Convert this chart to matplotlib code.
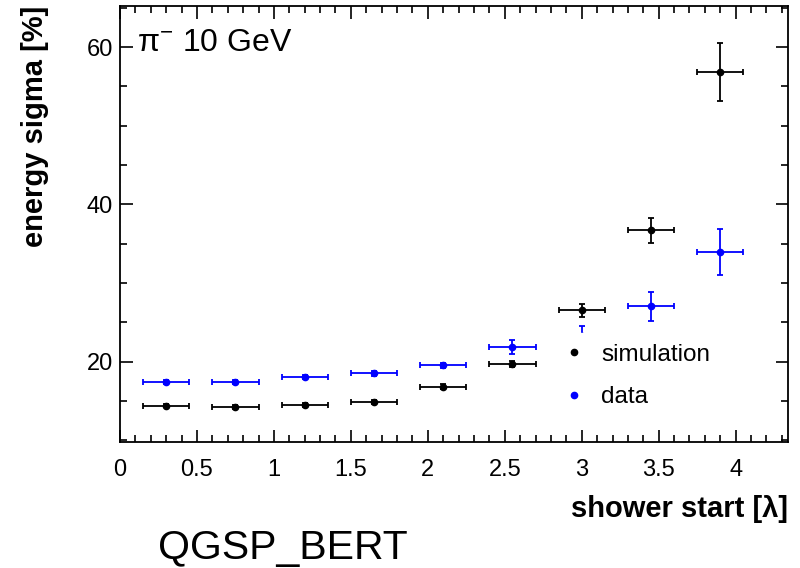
import numpy as np
import matplotlib
matplotlib.use('Agg')
import matplotlib.pyplot as plt
from matplotlib.ticker import MultipleLocator, FuncFormatter
from matplotlib.lines import Line2D

plt.rcParams['font.family'] = ['Liberation Sans', 'DejaVu Sans']
plt.rcParams['mathtext.fontset'] = 'custom'
plt.rcParams['mathtext.rm'] = 'Liberation Sans'
plt.rcParams['mathtext.it'] = 'Liberation Sans:italic'

# shower start bins [lambda]
x = [0.3, 0.75, 1.2, 1.65, 2.1, 2.55, 3.0, 3.45, 3.9]
x_err = [0.15] * 9

# energy sigma [%]
sim = [14.4, 14.2, 14.5, 14.9, 16.8, 19.7, 26.5, 36.7, 56.8]
sim_err = [0.25, 0.25, 0.25, 0.25, 0.3, 0.35, 0.8, 1.6, 3.7]
data = [17.45, 17.4, 18.0, 18.5, 19.5, 21.9, 23.3, 27.0, 33.9]
data_err = [0.25, 0.25, 0.25, 0.3, 0.35, 0.9, 1.2, 1.9, 2.9]

fig = plt.figure(figsize=(8, 5.68), dpi=100)
ax = fig.add_axes([0.15, 0.221, 0.835, 0.768])

ax.errorbar(x, sim, xerr=x_err, yerr=sim_err, fmt='o', color='black',
            ms=4.5, capsize=2.5, elinewidth=1.3, capthick=1.3)
ax.errorbar(x, data, xerr=x_err, yerr=data_err, fmt='o', color='blue',
            ms=4.5, capsize=2.5, elinewidth=1.3, capthick=1.3)

ax.set_xlim(0, 4.34)
ax.set_ylim(9.7, 65.2)
ax.xaxis.set_major_locator(MultipleLocator(0.5))
ax.xaxis.set_minor_locator(MultipleLocator(0.1))
ax.xaxis.set_major_formatter(FuncFormatter(lambda v, p: '%g' % v))
ax.yaxis.set_major_locator(MultipleLocator(20))
ax.yaxis.set_minor_locator(MultipleLocator(5))
ax.tick_params(which='both', direction='in', top=True, right=True, width=1.2)
ax.tick_params(which='major', length=9, labelsize=17)
ax.tick_params(which='minor', length=5)
ax.tick_params(axis='x', pad=12)
ax.tick_params(axis='y', pad=5)
for s in ax.spines.values():
    s.set_linewidth(1.3)

ax.set_ylabel('energy sigma [%]', fontsize=21, fontweight='bold', loc='top', labelpad=27)
ax.set_xlabel('shower start [λ]', fontsize=21, fontweight='bold', loc='right', labelpad=10)

ax.text(0.025, 0.915, r'$\mathrm{π}^{-}$ 10 GeV', transform=ax.transAxes,
        fontsize=23, ha='left', va='center')

handles = [Line2D([], [], ls='none', marker='o', ms=4.5, color='black'),
           Line2D([], [], ls='none', marker='o', ms=4.5, color='blue')]
leg = ax.legend(handles, ['simulation', 'data'], loc='upper left',
                bbox_to_anchor=(0.689, 0.414), bbox_transform=fig.transFigure,
                frameon=True, fontsize=17.5, handlelength=1.0, handletextpad=0.6,
                labelspacing=0.85, borderpad=0.45, borderaxespad=0, fancybox=False)
leg.get_frame().set_edgecolor('white')
leg.get_frame().set_facecolor('white')
leg.get_frame().set_alpha(1)

fig.text(0.198, 0.016, 'QGSP_BERT', fontsize=29.5, ha='left', va='baseline')

fig.savefig('out.png', dpi=100)
